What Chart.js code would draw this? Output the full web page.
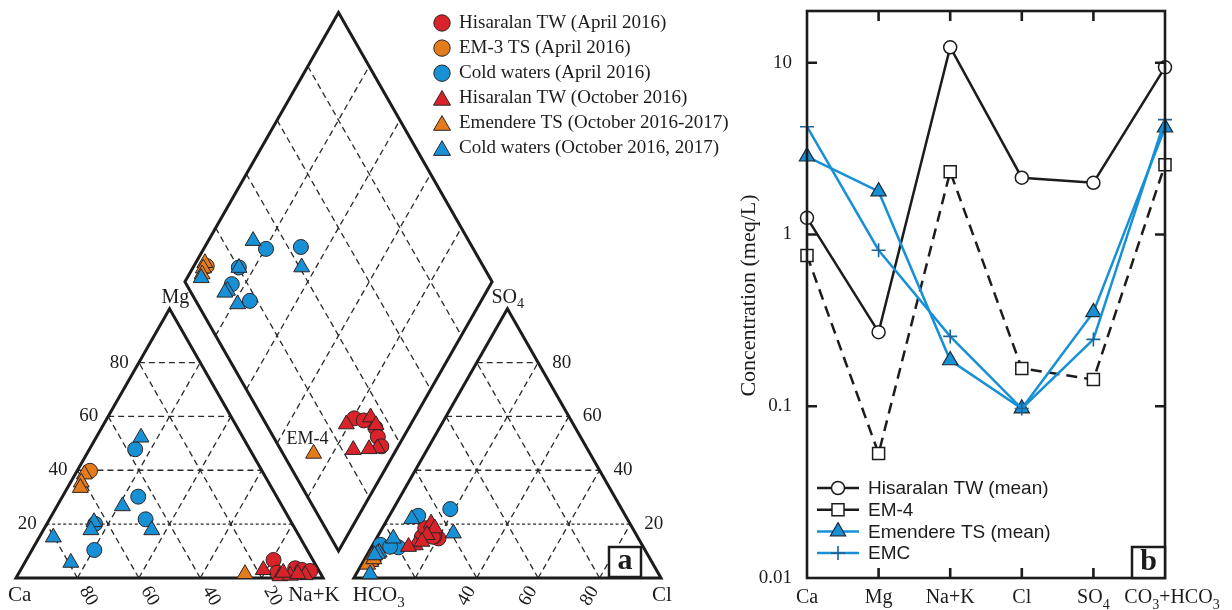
<!DOCTYPE html>
<html>
<head>
<meta charset="utf-8">
<script src="https://cdn.jsdelivr.net/npm/chart.js@4.4.1/dist/chart.umd.min.js"></script>
<style>
  html, body { margin: 0; padding: 0; background: #ffffff; }
  #wrap { position: relative; width: 1232px; height: 610px; overflow: hidden; background: #ffffff; }
  #piper { position: absolute; left: 0; top: 0; }
  #schoeller { position: absolute; left: 730px; top: 0; }
</style>
</head>
<body>
<div id="wrap">
  <canvas id="piper" width="730" height="610"></canvas>
  <canvas id="schoeller" width="502" height="610"></canvas>
</div>
<script>
// ---------------- Piper diagram samples ----------------
// each sample: [Mg %, Na+K %, SO4 %, Cl %] of meq/L (Ca and HCO3 are the remainders)
const hisaralanApr2016 = [
  [6.7, 80.5, 15.3, 14.5],
  [3.6, 89.1, 14.7, 20.2],
  [3.0, 91.6, 15.5, 18.5],
  [2.6, 94.5, 15.3, 18.1],
  [2.0, 84.0, 18.5, 14.0]
];
const em3Apr2016 = [
  [39.8, 4.2, 7.0, 3.0]
];
const coldApr2016 = [
  [10.4, 20.3, 23.1, 9.4],
  [21.8, 31.3, 25.6, 18.6],
  [47.8, 14.9, 11.4, 8.8],
  [20.1, 15.7, 12.3, 2.5],
  [30.2, 24.7, 11.6, 6.0]
];
const hisaralanOct2016 = [
  [3.0, 79.0, 12.2, 13.9],
  [0.7, 85.6, 20.3, 15.0],
  [0.9, 88.8, 18.5, 17.1],
  [1.1, 93.6, 16.0, 15.8],
  [1.5, 91.0, 13.5, 15.4],
  [2.0, 86.0, 11.6, 12.0]
];
const emendereOct2016_2017 = [
  [38.5, 3.0, 8.0, 2.0],
  [35.5, 3.5, 6.0, 2.5],
  [33.5, 4.2, 5.0, 2.0],
  [1.5, 73.8, 7.0, 3.0]   // EM-4
];
const coldOct2016_2017 = [
  [52.2, 14.6, 21.9, 7.9],
  [17.8, 35.3, 16.6, 24.1],
  [15.1, 4.6, 1.4, 4.6],
  [26.7, 21.3, 9.5, 3.5],
  [20.8, 15.0, 14.7, 5.5],
  [17.8, 15.5, 9.0, 3.2],
  [5.7, 15.0, 8.5, 2.5]
];
const piperTicks = [20, 40, 60, 80];
const piperLegend = [
  'Hisaralan TW (April 2016)',
  'EM-3 TS (April 2016)',
  'Cold waters (April 2016)',
  'Hisaralan TW (October 2016)',
  'Emendere TS (October 2016-2017)',
  'Cold waters (October 2016, 2017)'
];

// ---------------- Schoeller diagram (meq/L) ----------------
const ions = ['Ca', 'Mg', 'Na+K', 'Cl', 'SO4', 'CO3+HCO3'];
const hisaralanMean = [1.25, 0.27, 12.3, 2.14, 2.0, 9.4];
const em4 = [0.755, 0.053, 2.32, 0.166, 0.143, 2.55];
const emendereMean = [2.84, 1.78, 0.185, 0.097, 0.353, 4.19];
const emc = [4.24, 0.81, 0.255, 0.097, 0.245, 4.66];
const concTicks = [0.01, 0.1, 1, 10];
const schoellerLegend = ['Hisaralan TW (mean)', 'EM-4', 'Emendere TS (mean)', 'EMC'];

// ---------------- styling ----------------
const RED = '#d8232a';
const ORANGE = '#e47c1c';
const BLUE = '#1790d6';
const INK = '#1c1c1c';
const MARK_EDGE = '#2e2424';
const SERIF = '"Liberation Serif", "Times New Roman", serif';
const SANS = '"Liberation Sans", Arial, sans-serif';

// ---------------- ternary geometry (triangle side = 100 units) ----------------
const H = Math.sqrt(3) / 2;
const GAP = 10;
function cationXY(mg, nak) { return { x: nak + mg / 2, y: mg * H }; }
function anionXY(so4, cl) { return { x: 100 + GAP + cl + so4 / 2, y: so4 * H }; }
function diamondXY(nak, anSum) {
  return {
    x: 100 + GAP / 2 - (100 - nak) / 2 + anSum / 2,
    y: GAP * H + (100 - nak) * H + anSum * H
  };
}
function piperPoints(samples) {
  const pts = [];
  samples.forEach(s => {
    pts.push(cationXY(s[0], s[1]));
    pts.push(anionXY(s[2], s[3]));
    pts.push(diamondXY(s[1], s[2] + s[3]));
  });
  return pts;
}

// ---------------- shared drawing helpers ----------------
function richText(ctx, parts, x, y, size, align, family, weight) {
  const fam = family || SERIF;
  const w = weight || 'normal';
  const subSize = Math.round(size * 0.72);
  let total = 0;
  parts.forEach(p => {
    ctx.font = w + ' ' + (p[1] ? subSize : size) + 'px ' + fam;
    total += ctx.measureText(p[0]).width;
  });
  let cx = x;
  if (align === 'center') cx = x - total / 2;
  else if (align === 'right') cx = x - total;
  ctx.textAlign = 'left';
  ctx.textBaseline = 'alphabetic';
  parts.forEach(p => {
    ctx.font = w + ' ' + (p[1] ? subSize : size) + 'px ' + fam;
    ctx.fillText(p[0], cx, p[1] ? y + size * 0.28 : y);
    cx += ctx.measureText(p[0]).width;
  });
}
function marker(ctx, style, x, y, r, fill, stroke, lw) {
  ctx.save();
  ctx.beginPath();
  if (style === 'circle') {
    ctx.arc(x, y, r, 0, Math.PI * 2);
  } else if (style === 'triangle') {
    let a = 0;
    ctx.moveTo(x + Math.sin(a) * r, y - Math.cos(a) * r);
    a += 2 * Math.PI / 3;
    ctx.lineTo(x + Math.sin(a) * r, y - Math.cos(a) * r);
    a += 2 * Math.PI / 3;
    ctx.lineTo(x + Math.sin(a) * r, y - Math.cos(a) * r);
    ctx.closePath();
  } else if (style === 'rect') {
    const s = r / Math.SQRT2;
    ctx.rect(x - s, y - s, 2 * s, 2 * s);
  } else if (style === 'cross') {
    ctx.moveTo(x - r, y); ctx.lineTo(x + r, y);
    ctx.moveTo(x, y - r); ctx.lineTo(x, y + r);
  }
  if (fill && style !== 'cross') { ctx.fillStyle = fill; ctx.fill(); }
  ctx.lineWidth = lw;
  ctx.strokeStyle = stroke;
  ctx.stroke();
  ctx.restore();
}

// ---------------- Piper chart datasets ----------------
const piperSeries = [
  { data: hisaralanApr2016, color: RED, shape: 'circle' },
  { data: em3Apr2016, color: ORANGE, shape: 'circle' },
  { data: coldApr2016, color: BLUE, shape: 'circle' },
  { data: hisaralanOct2016, color: RED, shape: 'triangle' },
  { data: emendereOct2016_2017, color: ORANGE, shape: 'triangle' },
  { data: coldOct2016_2017, color: BLUE, shape: 'triangle' }
];
const piperDatasets = [];
piperSeries.forEach((s, i) => {
  piperDatasets.push({
    label: piperLegend[i],
    data: piperPoints(s.data),
    showLine: false,
    pointStyle: s.shape,
    pointRadius: s.shape === 'circle' ? 7.5 : 9.2,
    pointBackgroundColor: s.color,
    pointBorderColor: MARK_EDGE,
    pointBorderWidth: 1,
    order: 100 - i,
    clip: false
  });
});
// dashed 20-40-60-80 grid inside the triangles and the diamond
piperTicks.forEach(t => {
  const fine = t === 20;
  const segs = [
    [cationXY(t, 0), cationXY(t, 100 - t), fine],
    [cationXY(0, t), cationXY(100 - t, t), false],
    [cationXY(0, 100 - t), cationXY(100 - t, 0), false],
    [anionXY(t, 0), anionXY(t, 100 - t), fine],
    [anionXY(0, t), anionXY(100 - t, t), false],
    [anionXY(0, 100 - t), anionXY(100 - t, 0), false],
    [diamondXY(t, 0), diamondXY(t, 100), false],
    [diamondXY(0, t), diamondXY(100, t), false]
  ];
  segs.forEach(sg => {
    piperDatasets.push({
      data: [sg[0], sg[1]],
      showLine: true,
      borderColor: '#2a2a2a',
      borderWidth: 1.3,
      borderDash: sg[2] ? [3, 2.5] : [6, 4],
      pointRadius: 0,
      order: 1000,
      clip: false
    });
  });
});
// outlines
const frames = [
  [cationXY(0, 0), cationXY(0, 100), cationXY(100, 0), cationXY(0, 0), cationXY(0, 100)],
  [anionXY(0, 0), anionXY(0, 100), anionXY(100, 0), anionXY(0, 0), anionXY(0, 100)],
  [diamondXY(100, 0), diamondXY(100, 100), diamondXY(0, 100), diamondXY(0, 0), diamondXY(100, 0), diamondXY(100, 100)]
];
frames.forEach(f => {
  piperDatasets.push({
    data: f,
    showLine: true,
    borderColor: INK,
    borderWidth: 3,
    borderJoinStyle: 'miter',
    pointRadius: 0,
    order: 900,
    clip: false
  });
});

const piperLabels = {
  id: 'piperLabels',
  afterDraw(chart) {
    const ctx = chart.ctx;
    const xs = chart.scales.x, ys = chart.scales.y;
    const px = p => ({ x: xs.getPixelForValue(p.x), y: ys.getPixelForValue(p.y) });
    ctx.save();
    ctx.fillStyle = INK;

    // corner names
    const ca = px(cationXY(0, 0)), nak = px(cationXY(0, 100)), mg = px(cationXY(100, 0));
    const hco3 = px(anionXY(0, 0)), cl = px(anionXY(0, 100)), so4 = px(anionXY(100, 0));
    richText(ctx, [['Ca', 0]], ca.x - 8, ca.y + 23, 21, 'left');
    richText(ctx, [['Na+K', 0]], nak.x - 35, nak.y + 23, 21, 'left');
    richText(ctx, [['HCO', 0], ['3', 1]], hco3.x - 1, hco3.y + 23, 21, 'left');
    richText(ctx, [['Cl', 0]], cl.x - 9, cl.y + 23, 21, 'left');
    richText(ctx, [['Mg', 0]], mg.x - 8, mg.y - 6, 20, 'left');
    richText(ctx, [['SO', 0], ['4', 1]], so4.x - 16, so4.y - 6, 20, 'left');

    // percentage ticks
    ctx.font = '19px ' + SERIF;
    ctx.textBaseline = 'middle';
    piperTicks.forEach(t => {
      const l = px(cationXY(t, 0));
      ctx.textAlign = 'right';
      ctx.fillText(String(t), l.x - 10, l.y);
      const r = px(anionXY(t, 100 - t));
      ctx.textAlign = 'left';
      ctx.fillText(String(t), r.x + 14, r.y);
      // Ca along the cation base
      const b = px(cationXY(0, 100 - t));
      ctx.save();
      ctx.translate(b.x + 11, b.y + 18);
      ctx.rotate(Math.PI / 3);
      ctx.textAlign = 'center';
      ctx.fillText(String(t), 0, 0);
      ctx.restore();
      // Cl along the anion base
      if (t > 20) {
        const c = px(anionXY(0, t));
        ctx.save();
        ctx.translate(c.x - 10, c.y + 18);
        ctx.rotate(-Math.PI / 3);
        ctx.textAlign = 'center';
        ctx.fillText(String(t), 0, 0);
        ctx.restore();
      }
    });

    // EM-4 annotation
    const e4 = emendereOct2016_2017[3];
    const e4p = px(diamondXY(e4[1], e4[2] + e4[3]));
    ctx.font = '18px ' + SERIF;
    ctx.textAlign = 'center';
    ctx.textBaseline = 'alphabetic';
    ctx.fillText('EM-4', e4p.x - 6, e4p.y - 10);

    // legend
    ctx.textAlign = 'left';
    ctx.textBaseline = 'middle';
    ctx.font = '19px ' + SERIF;
    piperSeries.forEach((s, i) => {
      const y = 23 + i * 25.1;
      if (s.shape === 'circle') marker(ctx, 'circle', 442, y, 8.2, s.color, MARK_EDGE, 1);
      else marker(ctx, 'triangle', 442, y + 2, 9.8, s.color, MARK_EDGE, 1);
      ctx.fillStyle = INK;
      ctx.fillText(piperLegend[i], 459, y);
    });

    // panel tag
    const bx = cl.x - 52, by = cl.y - 31;
    ctx.fillStyle = '#ffffff';
    ctx.fillRect(bx, by, 32, 30);
    ctx.lineWidth = 2.5;
    ctx.strokeStyle = INK;
    ctx.strokeRect(bx, by, 32, 30);
    ctx.fillStyle = INK;
    ctx.font = 'bold 30px ' + SERIF;
    ctx.textAlign = 'center';
    ctx.textBaseline = 'middle';
    ctx.fillText('a', bx + 16, by + 14);
    ctx.restore();
  }
};

new Chart(document.getElementById('piper'), {
  type: 'scatter',
  data: { datasets: piperDatasets },
  options: {
    responsive: false,
    animation: false,
    devicePixelRatio: 1,
    layout: { padding: { left: 16, right: 69, top: 12, bottom: 32 } },
    scales: {
      x: { type: 'linear', min: 0, max: 210, display: false },
      y: { type: 'linear', min: 0, max: 182, display: false }
    },
    elements: { line: { tension: 0 } },
    plugins: { legend: { display: false }, tooltip: { enabled: false } }
  },
  plugins: [piperLabels]
});

// ---------------- Schoeller chart ----------------
const toXY = vals => vals.map((v, i) => ({ x: i, y: v }));
const schoellerStyles = [
  { color: INK, width: 2.5, dash: [], shape: 'circle', r: 6.5, fill: '#ffffff', edge: INK, ew: 1.5 },
  { color: INK, width: 2.5, dash: [11, 7], shape: 'rect', r: 8.5, fill: '#ffffff', edge: INK, ew: 1.5 },
  { color: BLUE, width: 2.5, dash: [], shape: 'triangle', r: 8.8, fill: BLUE, edge: '#1d2a35', ew: 1.2 },
  { color: BLUE, width: 2.5, dash: [], shape: 'cross', r: 7, fill: null, edge: '#1f6396', ew: 1.6 }
];
const schoellerValues = [hisaralanMean, em4, emendereMean, emc];
const schoellerDatasets = schoellerValues.map((vals, i) => {
  const st = schoellerStyles[i];
  return {
    label: schoellerLegend[i],
    data: toXY(vals),
    showLine: true,
    borderColor: st.color,
    borderWidth: st.width,
    borderDash: st.dash,
    pointStyle: st.shape,
    pointRadius: st.r,
    pointBackgroundColor: st.fill || 'rgba(0,0,0,0)',
    pointBorderColor: st.edge,
    pointBorderWidth: st.ew,
    order: 10 - i,
    clip: false
  };
});

const schoellerFrame = {
  id: 'schoellerFrame',
  afterDraw(chart) {
    const ctx = chart.ctx;
    const a = chart.chartArea;
    const xs = chart.scales.x, ys = chart.scales.y;
    ctx.save();
    ctx.strokeStyle = INK;
    ctx.lineWidth = 2.6;
    ctx.strokeRect(a.left, a.top, a.right - a.left, a.bottom - a.top);

    // inward ticks
    ctx.beginPath();
    concTicks.forEach(v => {
      if (v <= ys.min) return;
      const y = ys.getPixelForValue(v);
      ctx.moveTo(a.left, y); ctx.lineTo(a.left + 10, y);
      ctx.moveTo(a.right, y); ctx.lineTo(a.right - 10, y);
    });
    ions.forEach((n, i) => {
      if (i === 0 || i === ions.length - 1) return;
      const x = xs.getPixelForValue(i);
      ctx.moveTo(x, a.top); ctx.lineTo(x, a.top + 10);
      ctx.moveTo(x, a.bottom); ctx.lineTo(x, a.bottom - 10);
    });
    ctx.stroke();

    // tick labels
    ctx.fillStyle = INK;
    ctx.font = '19px ' + SERIF;
    ctx.textAlign = 'right';
    ctx.textBaseline = 'middle';
    concTicks.forEach(v => {
      ctx.fillText(String(v), a.left - 15, ys.getPixelForValue(v));
    });
    const ionParts = {
      'Ca': [['Ca', 0]],
      'Mg': [['Mg', 0]],
      'Na+K': [['Na+K', 0]],
      'Cl': [['Cl', 0]],
      'SO4': [['SO', 0], ['4', 1]],
      'CO3+HCO3': [['CO', 0], ['3', 1], ['+HCO', 0], ['3', 1]]
    };
    ions.forEach((n, i) => {
      const x = xs.getPixelForValue(i) + (i === ions.length - 1 ? 7 : 0);
      richText(ctx, ionParts[n], x, a.bottom + 25, 20, 'center');
    });

    // axis title
    ctx.save();
    ctx.translate(a.left - 58, (a.top + a.bottom) / 2 + 1);
    ctx.rotate(-Math.PI / 2);
    ctx.font = '22px ' + SERIF;
    ctx.textAlign = 'center';
    ctx.textBaseline = 'middle';
    ctx.fillText('Concentration (meq/L)', 0, 0);
    ctx.restore();

    // legend
    ctx.font = '19px ' + SANS;
    ctx.textAlign = 'left';
    ctx.textBaseline = 'middle';
    schoellerStyles.forEach((st, i) => {
      const y = a.bottom - 90 + i * 21.7;
      ctx.beginPath();
      ctx.moveTo(a.left + 10, y);
      ctx.lineTo(a.left + 52, y);
      ctx.lineWidth = st.width;
      ctx.strokeStyle = st.color;
      ctx.stroke();
      marker(ctx, st.shape, a.left + 31, y, st.r, st.fill, st.edge, st.ew);
      ctx.fillStyle = INK;
      ctx.fillText(schoellerLegend[i], a.left + 61, y + 1);
    });

    // panel tag
    const bx = a.right - 33, by = a.bottom - 31;
    ctx.fillStyle = '#ffffff';
    ctx.fillRect(bx, by, 33, 31);
    ctx.lineWidth = 2.5;
    ctx.strokeStyle = INK;
    ctx.strokeRect(bx, by, 33, 31);
    ctx.fillStyle = INK;
    ctx.font = 'bold 30px ' + SERIF;
    ctx.textAlign = 'center';
    ctx.textBaseline = 'middle';
    ctx.fillText('b', bx + 16.5, by + 15);
    ctx.restore();
  }
};

new Chart(document.getElementById('schoeller'), {
  type: 'scatter',
  data: { datasets: schoellerDatasets },
  options: {
    responsive: false,
    animation: false,
    devicePixelRatio: 1,
    layout: { padding: { left: 77, right: 67, top: 11, bottom: 32 } },
    scales: {
      x: { type: 'linear', min: 0, max: 5, display: false },
      y: { type: 'logarithmic', min: 0.01, max: 20, display: false }
    },
    elements: { line: { tension: 0 } },
    plugins: { legend: { display: false }, tooltip: { enabled: false } }
  },
  plugins: [schoellerFrame]
});
</script>
</body>
</html>
